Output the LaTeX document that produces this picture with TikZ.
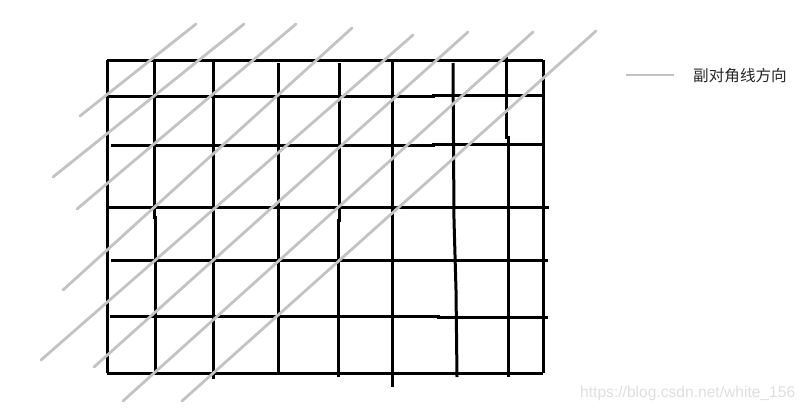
\documentclass[tikz,border=0pt]{standalone}
\usepackage{fontspec}
\setmainfont{Liberation Sans}
\newfontfamily\cjk{Noto Sans CJK SC}
\begin{document}
\begin{tikzpicture}[x=1pt,y=-1pt,
  gridline/.style={line width=3pt, black},
  diagline/.style={line width=2.8pt, color=diaggray, line cap=round},
  legendtext/.style={inner sep=0pt, anchor=base west, font=\cjk\fontsize{15.6}{18}\selectfont, text=black!85},
  marktext/.style={inner sep=0pt, anchor=base west, font=\fontsize{15.6}{18}\selectfont, text=black!13}]
\definecolor{diaggray}{HTML}{C3C3C3}
\useasboundingbox (0,0) rectangle (808,413);
% horizontal lines
\draw[gridline] (107,60) -- (543,60);
\draw[gridline] (107,96) -- (433,96) -- (433,95) -- (543,95);
\draw[gridline] (111,145) -- (433,145) -- (433,144) -- (543,144);
\draw[gridline] (107,207) -- (549,207);
\draw[gridline] (111,260) -- (548,260);
\draw[gridline] (110,316) -- (438,316) -- (438,317) -- (548,317);
\draw[gridline] (107,373) -- (543,373);
% vertical lines
\draw[gridline] (107,60) -- (107,373);
\draw[gridline] (154,60) -- (154,217) -- (155,217) -- (155,373);
\draw[gridline] (213,60) -- (213,379);
\draw[gridline] (278,63) -- (278,373);
\draw[gridline] (339,63) -- (339,220) -- (338,220) -- (338,377);
\draw[gridline] (392,60) -- (392,387);
\draw[gridline] (453,63) -- (454,220) -- (456,290) -- (457,377);
\draw[gridline] (506,57) -- (506,137) -- (508,137) -- (508,377);
\draw[gridline] (543,60) -- (543,373);
% anti-diagonal direction lines
\draw[diagline] (196,24) -- (80,116);
\draw[diagline] (244,24) -- (53,177);
\draw[diagline] (296,24) -- (77,209);
\draw[diagline] (352,28) -- (63,290);
\draw[diagline] (413,35) -- (41,360);
\draw[diagline] (468,32) -- (94,367);
\draw[diagline] (533,32) -- (123,401);
\draw[diagline] (596,31) -- (182,401);
% legend
\coordinate (legA) at (626,75);
\coordinate (legB) at (674,75);
\draw[line width=2.8pt, color=diaggray] (legA) -- (legB);
\node[legendtext] (legtext) at (693,81.5) {副对角线方向};
% watermark
\node[marktext] (mark) at (580,397) {https://blog.csdn.net/white\_156};
\end{tikzpicture}
\end{document}
